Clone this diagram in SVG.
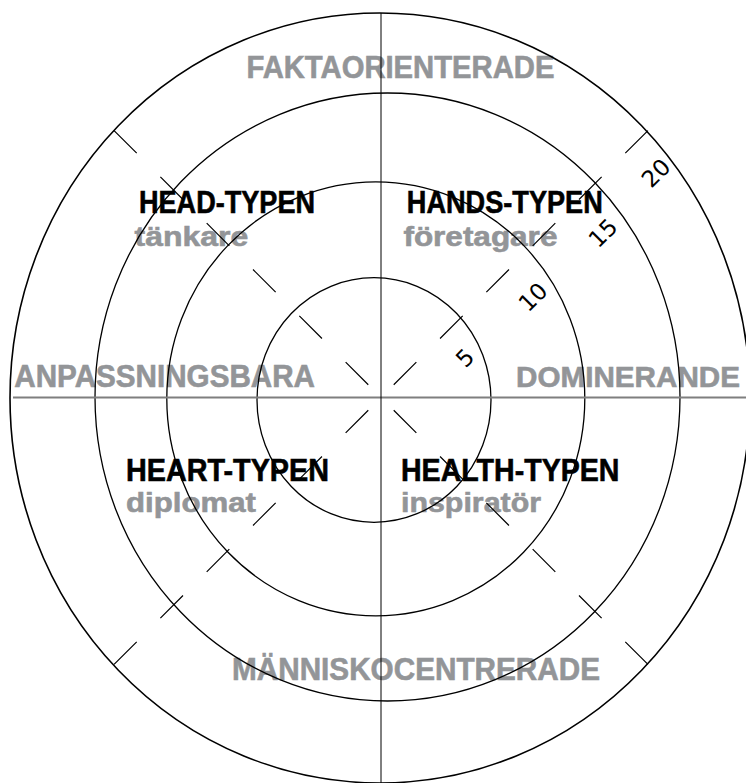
<svg xmlns="http://www.w3.org/2000/svg" width="746" height="783" viewBox="0 0 746 783">
<style>
.bg{fill:#ffffff}
.ring{fill:none;stroke:#000;stroke-width:1.3}
.ring-o{fill:none;stroke:#000;stroke-width:1.6}
.vax{stroke:#000;stroke-width:1}
.hax{stroke:#7f7f7f;stroke-width:2}
.diag{stroke:#000;stroke-width:1.2;stroke-dasharray:32 33.5}
.axis{font-family:"Liberation Sans Narrow","Liberation Sans",Arial,sans-serif;font-weight:bold;font-size:31px;fill:#939598;stroke:#939598;stroke-width:0.6}
.type{font-family:"Liberation Sans Narrow","Liberation Sans",Arial,sans-serif;font-weight:bold;font-size:31px;fill:#000;stroke:#000;stroke-width:0.6}
.role{font-family:"Liberation Sans Narrow","Liberation Sans",Arial,sans-serif;font-weight:bold;font-size:28px;fill:#939598;stroke:#939598;stroke-width:0.6}
.num{font-family:"DejaVu Sans","Liberation Sans",sans-serif;font-size:23px;fill:#000;text-anchor:middle;dominant-baseline:central}
</style>
<rect class="bg" x="0" y="0" width="746" height="783"/>
<g id="labels">
<g id="faktaorienterade"><text class="axis" x="246.4" y="78.3" textLength="308" lengthAdjust="spacingAndGlyphs">FAKTAORIENTERADE</text></g>
<g id="anpassningsbara"><text class="axis" x="14.3" y="387.3" textLength="300.7" lengthAdjust="spacingAndGlyphs">ANPASSNINGSBARA</text></g>
<g id="dominerande"><text class="axis" x="516" y="387.3" style="font-size:29px" textLength="224" lengthAdjust="spacingAndGlyphs">DOMINERANDE</text></g>
<g id="manniskocentrerade"><text class="axis" x="232" y="680" textLength="368" lengthAdjust="spacingAndGlyphs">MÄNNISKOCENTRERADE</text></g>
<g id="head-typen"><text class="type" x="139" y="212.7" textLength="176" lengthAdjust="spacingAndGlyphs">HEAD-TYPEN</text><text class="role" x="134.6" y="245.7" textLength="113.7" lengthAdjust="spacingAndGlyphs">tänkare</text></g>
<g id="hands-typen"><text class="type" x="406.8" y="212.7" textLength="196" lengthAdjust="spacingAndGlyphs">HANDS-TYPEN</text><text class="role" x="403.4" y="245.7" textLength="154" lengthAdjust="spacingAndGlyphs">företagare</text></g>
<g id="heart-typen"><text class="type" x="126" y="480.7" textLength="203" lengthAdjust="spacingAndGlyphs">HEART-TYPEN</text><text class="role" x="126" y="511.7" textLength="130" lengthAdjust="spacingAndGlyphs">diplomat</text></g>
<g id="health-typen"><text class="type" x="401" y="480.7" textLength="218.4" lengthAdjust="spacingAndGlyphs">HEALTH-TYPEN</text><text class="role" x="401" y="511.7" textLength="140" lengthAdjust="spacingAndGlyphs">inspiratör</text></g>
</g>
<g id="connectors">
<ellipse class="ring" cx="374" cy="400" rx="117" ry="122.3"/>
<ellipse class="ring" cx="375.8" cy="398.8" rx="209" ry="217"/>
<ellipse class="ring" cx="387.5" cy="397" rx="292.5" ry="304"/>
<ellipse class="ring-o" cx="380" cy="398" rx="370" ry="385"/>
<line class="hax" x1="13" y1="397.5" x2="746" y2="397.5"/>
<line class="vax" x1="381" y1="13" x2="381" y2="783"/>
<line class="diag" x1="393.73" y1="384.77" x2="648.3" y2="130.2"/>
<line class="diag" x1="368.27" y1="384.77" x2="113.7" y2="130.2"/>
<line class="diag" x1="368.27" y1="410.23" x2="113.7" y2="664.8"/>
<line class="diag" x1="393.73" y1="410.23" x2="648.3" y2="664.8"/>
</g>
<g id="scale">
<text class="num" transform="translate(465 358) rotate(-45)">5</text>
<text class="num" transform="translate(533 297) rotate(-45)">10</text>
<text class="num" transform="translate(603 233) rotate(-45)">15</text>
<text class="num" transform="translate(656 173) rotate(-45)">20</text>
</g>
</svg>
